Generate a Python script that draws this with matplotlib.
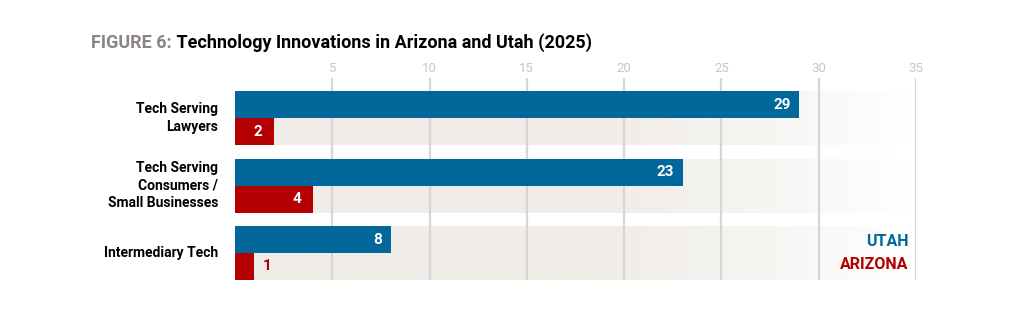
import numpy as np
import matplotlib.pyplot as plt
from matplotlib.colors import to_rgb

# data
categories = ["Tech Serving\nLawyers", "Tech Serving\nConsumers /\nSmall Businesses", "Intermediary Tech"]
utah = [29, 23, 8]
arizona = [2, 4, 1]
ticks = [5, 10, 15, 20, 25, 30, 35]

blue = "#02679a"
red = "#b40000"
band = "#f0ede8"
grid = "#d6d6d6"

plt.rcParams['font.family'] = ['Roboto', 'DejaVu Sans']
plt.rcParams['font.weight'] = 'bold'

fig = plt.figure(figsize=(10.24, 3.23), dpi=100)
W, H = 1024, 323
# axes in pixel terms: x 0 -> 235px, 35 -> 916px; y rows 67.5px apart
x0, x1 = 235, 916
ytop, ybot = 62, 280
ax = fig.add_axes([x0 / W, 1 - ybot / H, (x1 - x0) / W, (ybot - ytop) / H])
row = 67.5
ax.set_xlim(0, 35)
ax.set_ylim(2.4, 2.4 - (ybot - ytop) / row)
for s in ax.spines.values():
    s.set_visible(False)
ax.set_xticks([])
ax.set_yticks([])

# background bands fading to white on the right
xs = np.linspace(0, 34.8, 400)
fade = np.clip((xs - 18) / (34.8 - 18), 0, 1) ** 1.3
c0 = np.array(to_rgb(band))
img = c0[None, :] * (1 - fade[:, None]) + np.ones(3)[None, :] * fade[:, None]
img = np.clip(img, 0, 1)[None, :, :]
for i in range(len(categories)):
    ax.imshow(img, extent=[0, 34.8, i + 0.4, i - 0.4], aspect='auto', zorder=0, interpolation='bilinear')
ax.set_xlim(0, 35)
ax.set_ylim(2.4, 2.4 - (ybot - ytop) / row)

# grid lines and tick labels
for t in ticks:
    ax.plot([t, t], [2.4, -0.6], color=grid, lw=1.6, zorder=1, solid_capstyle='butt')
    ax.text(t, -0.74, str(t), ha='center', va='center', fontsize=9.5, color="#c6c6c6", fontweight='normal')

y = np.arange(len(categories))
h = 0.4
ax.barh(y - h / 2, utah, height=h, color=blue, zorder=2)
ax.barh(y + h / 2, arizona, height=h, color=red, zorder=2)

for i in range(len(categories)):
    ax.text(utah[i] - 0.45, y[i] - h / 2, str(utah[i]), ha='right', va='center',
            color='white', fontsize=11, fontweight='bold', zorder=3)
    if arizona[i] >= 2:
        ax.text(arizona[i] - 0.6, y[i] + h / 2, str(arizona[i]), ha='right', va='center',
                color='white', fontsize=11, fontweight='bold', zorder=3)
    else:
        ax.text(arizona[i] + 0.4, y[i] + h / 2, str(arizona[i]), ha='left', va='center',
                color=red, fontsize=11, fontweight='bold', zorder=3)
    ax.text(-0.85, y[i], categories[i], ha='right', va='center', fontsize=10,
            fontweight='bold', color='black', linespacing=1.3)

# legend as coloured words
ax.text(34.6, 1.83, "UTAH", ha='right', va='center', color=blue, fontsize=11.5, fontweight='bold')
ax.text(34.6, 2.17, "ARIZONA", ha='right', va='center', color=red, fontsize=11.5, fontweight='bold')

# title
t1 = fig.text(91 / W, 1 - 43 / H, "FIGURE 6:", ha='left', va='center', fontsize=13,
              fontweight='bold', color="#8a8482")
fig.canvas.draw()
fig.text(0, 0, " Technology Innovations in Arizona and Utah (2025)", fontsize=13,
         fontweight='bold', color='black', ha='left', va='center',
         transform=fig.transFigure)
bb = t1.get_window_extent()
fig.texts[-1].set_position((bb.x1 / fig.bbox.width, 1 - 43 / H))

fig.savefig("out.png", dpi=100)
